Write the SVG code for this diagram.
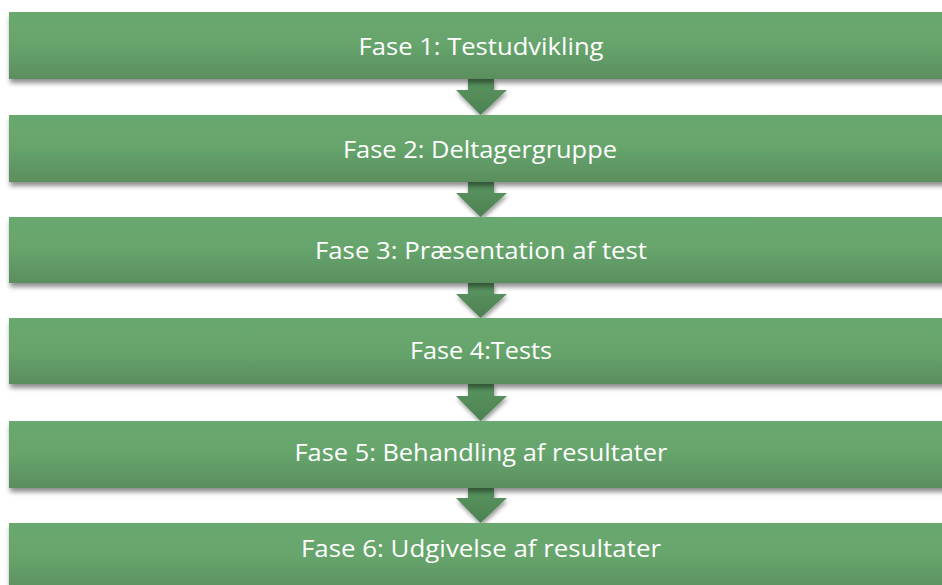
<svg xmlns="http://www.w3.org/2000/svg" width="942" height="585" viewBox="0 0 942 585">
<defs>
<linearGradient id="gBox" x1="0" y1="0" x2="0" y2="1">
<stop offset="0" stop-color="#68a96f"/>
<stop offset="0.5" stop-color="#66a46c"/>
<stop offset="1" stop-color="#5a8e5e"/>
</linearGradient>
<linearGradient id="gArr" x1="0" y1="0" x2="0" y2="1">
<stop offset="0" stop-color="#5a9660"/>
<stop offset="1" stop-color="#4d8152"/>
</linearGradient>
<filter id="sh" x="-5%" y="-20%" width="110%" height="160%">
<feGaussianBlur in="SourceAlpha" stdDeviation="2.5"/>
<feOffset dx="1" dy="4" result="b"/>
<feComponentTransfer><feFuncA type="linear" slope="0.45"/></feComponentTransfer>
<feMerge><feMergeNode/><feMergeNode in="SourceGraphic"/></feMerge>
</filter>
<filter id="sha" x="-40%" y="-30%" width="180%" height="170%">
<feGaussianBlur in="SourceAlpha" stdDeviation="2"/>
<feOffset dx="1" dy="3" result="b"/>
<feComponentTransfer><feFuncA type="linear" slope="0.4"/></feComponentTransfer>
<feMerge><feMergeNode/><feMergeNode in="SourceGraphic"/></feMerge>
</filter>
</defs>
<style>
.box{fill:url(#gBox);filter:url(#sh)}
.arr{fill:url(#gArr);filter:url(#sha)}
.lbl{font-family:"Open Sans","Liberation Sans",sans-serif;font-size:23.5px;fill:#ffffff;text-anchor:middle}
</style>
<rect width="942" height="585" fill="#ffffff"/>
<g id="connectors">
<path class="arr" d="M468,79 H494 V90 H507 L480.5,115 L456,90 H468 Z"/>
<path class="arr" d="M468,182 H494 V193 H507 L480.5,217 L456,193 H468 Z"/>
<path class="arr" d="M468,283 H494 V294 H507 L480.5,318 L456,294 H468 Z"/>
<path class="arr" d="M468,384 H494 V396 H507 L480.5,421 L456,396 H468 Z"/>
<path class="arr" d="M468,488 H494 V498 H507 L480.5,523 L456,498 H468 Z"/>
</g>
<g id="fase1"><rect class="box" x="9" y="12" width="945" height="67"/><text class="lbl" x="481" y="55" textLength="245" lengthAdjust="spacingAndGlyphs">Fase 1: Testudvikling</text></g>
<g id="fase2"><rect class="box" x="9" y="115" width="945" height="67"/><text class="lbl" x="480" y="157.5" textLength="274" lengthAdjust="spacingAndGlyphs">Fase 2: Deltagergruppe</text></g>
<g id="fase3"><rect class="box" x="9" y="217" width="945" height="66"/><text class="lbl" x="481" y="259" textLength="332" lengthAdjust="spacingAndGlyphs">Fase 3: Præsentation af test</text></g>
<g id="fase4"><rect class="box" x="9" y="318" width="945" height="66"/><text class="lbl" x="481" y="358.5" textLength="142" lengthAdjust="spacingAndGlyphs">Fase 4:Tests</text></g>
<g id="fase5"><rect class="box" x="9" y="421" width="945" height="67"/><text class="lbl" x="481" y="461" textLength="373" lengthAdjust="spacingAndGlyphs">Fase 5: Behandling af resultater</text></g>
<g id="fase6"><rect class="box" x="9" y="523" width="945" height="70"/><text class="lbl" x="481" y="557" textLength="360" lengthAdjust="spacingAndGlyphs">Fase 6: Udgivelse af resultater</text></g>
</svg>
